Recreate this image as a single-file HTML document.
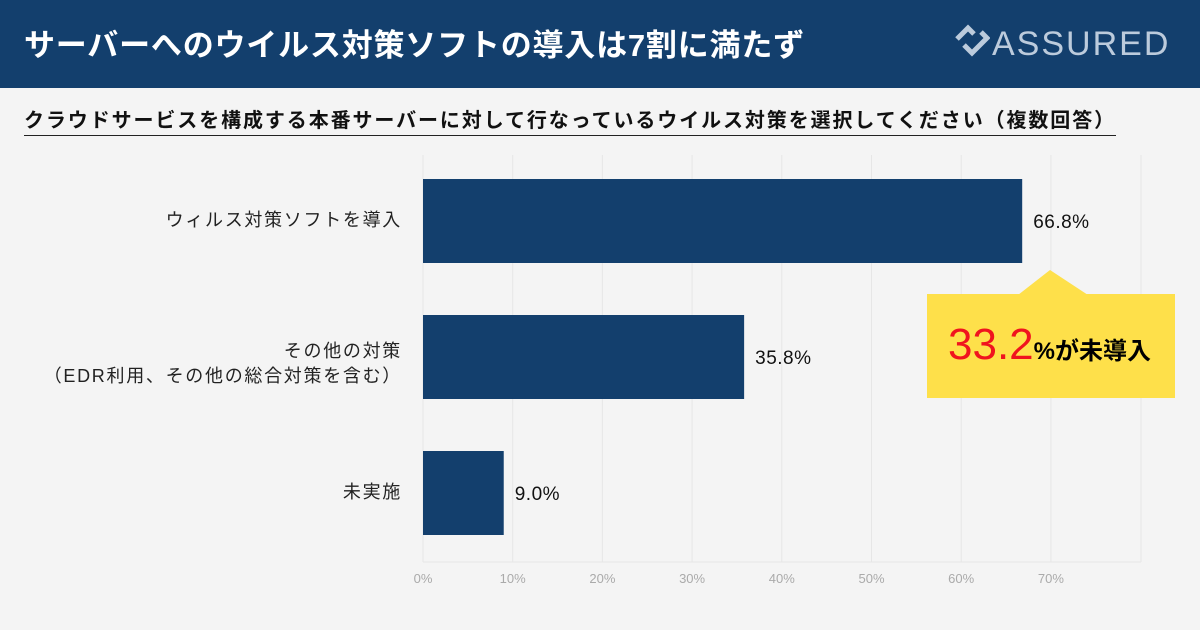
<!DOCTYPE html>
<html><head><meta charset="utf-8"><style>
body{margin:0;width:1200px;height:630px;background:#f4f4f4;font-family:"Liberation Sans","Noto Sans CJK JP",sans-serif;overflow:hidden;position:relative}
#hdr{position:absolute;left:0;top:0;width:1200px;height:88px;background:#133f6d}
#title{position:absolute;left:24px;top:20px;color:#fff;font-size:31px;font-weight:bold;letter-spacing:0.8px}
#logo{position:absolute;left:954px;top:23px;color:#bccbdc;font-size:34px;letter-spacing:2px}
#q{position:absolute;left:24px;top:104px;font-size:20px;font-weight:bold;color:#111;border-bottom:1.5px solid #222;padding-bottom:2px;width:1092px;letter-spacing:1.9px;white-space:nowrap}
.cat{position:absolute;right:798px;font-size:18px;color:#222;text-align:right;line-height:25px;letter-spacing:1.7px;white-space:nowrap}
#callout{position:absolute;left:927px;top:294px;width:248px;height:104px;background:#fee04a}
#callout span{position:absolute;left:21px;top:26px;white-space:nowrap}
</style></head><body>
<div id="hdr"></div>
<div id="title">サーバーへのウイルス対策ソフトの導入は7割に満たず</div>
<div id="logo"><svg width="36" height="36" viewBox="0 0 36 36" style="vertical-align:-4px;margin-right:2px"><path d="M3 16 L14 5 L20 11 M10 22 L18 30 L33 15 L27 9" fill="none" stroke="#bccbdc" stroke-width="5"/></svg>ASSURED</div>
<div id="q">クラウドサービスを構成する本番サーバーに対して行なっているウイルス対策を選択してください（複数回答）</div>
<div class="cat" style="top:208px">ウィルス対策ソフトを導入</div>
<div class="cat" style="top:339px">その他の対策<br>（EDR利用、その他の総合対策を含む）</div>
<div class="cat" style="top:480px">未実施</div>
<svg id="chart" width="1200" height="630" style="position:absolute;left:0;top:0"></svg>
<svg width="1200" height="630" style="position:absolute;left:0;top:0;pointer-events:none"><polygon points="1018,295 1050,270 1088,295" fill="#fee04a"/></svg>
<div id="callout"><span><b style="color:#f0141e;font-size:44px;font-weight:normal">33.2</b><b style="font-size:24px">%が未導入</b></span></div>
<script>
const categories=["ウィルス対策ソフトを導入","その他の対策","未実施"];
const values=[66.8,35.8,9.0];
const valueLabels=["66.8%","35.8%","9.0%"];
const ticks=[0,10,20,30,40,50,60,70];
const tickLabels=["0%","10%","20%","30%","40%","50%","60%","70%"];
const svg=document.getElementById('chart');const NS='http://www.w3.org/2000/svg';
const x0=423,pxPer=8.97,plotTop=155,plotBot=562,plotRight=1141;
const xs=v=>x0+v*pxPer;
const ys=i=>179+i*136;
function el(t,a){const e=document.createElementNS(NS,t);for(const k in a)e.setAttribute(k,a[k]);svg.appendChild(e);return e;}
ticks.forEach((t,i)=>{
 const g=el('line',{x1:xs(t),x2:xs(t),y1:plotTop,y2:plotBot,stroke:'#e6e6e6','stroke-width':1});
 
 
 const tx=el('text',{x:xs(t),y:583,'text-anchor':'middle','font-size':13,fill:'#aaa','font-family':'Liberation Sans'});
 tx.textContent=tickLabels[i];
 
 
});
const rb=el('line',{x1:plotRight,x2:plotRight,y1:plotTop,y2:plotBot,stroke:'#e6e6e6'});


const bb=el('line',{x1:x0,x2:plotRight,y1:plotBot,y2:plotBot,stroke:'#e6e6e6'});


values.forEach((v,i)=>{
 const r=el('rect',{x:x0,y:ys(i),width:xs(v)-x0,height:84,fill:'#133f6d'});
 
 
 const t=el('text',{x:xs(v)+11,y:ys(i)+49,'font-size':19,fill:'#111','font-family':'Liberation Sans','letter-spacing':0.5});
 t.textContent=valueLabels[i];
 
 
});
</script>
</body></html>
